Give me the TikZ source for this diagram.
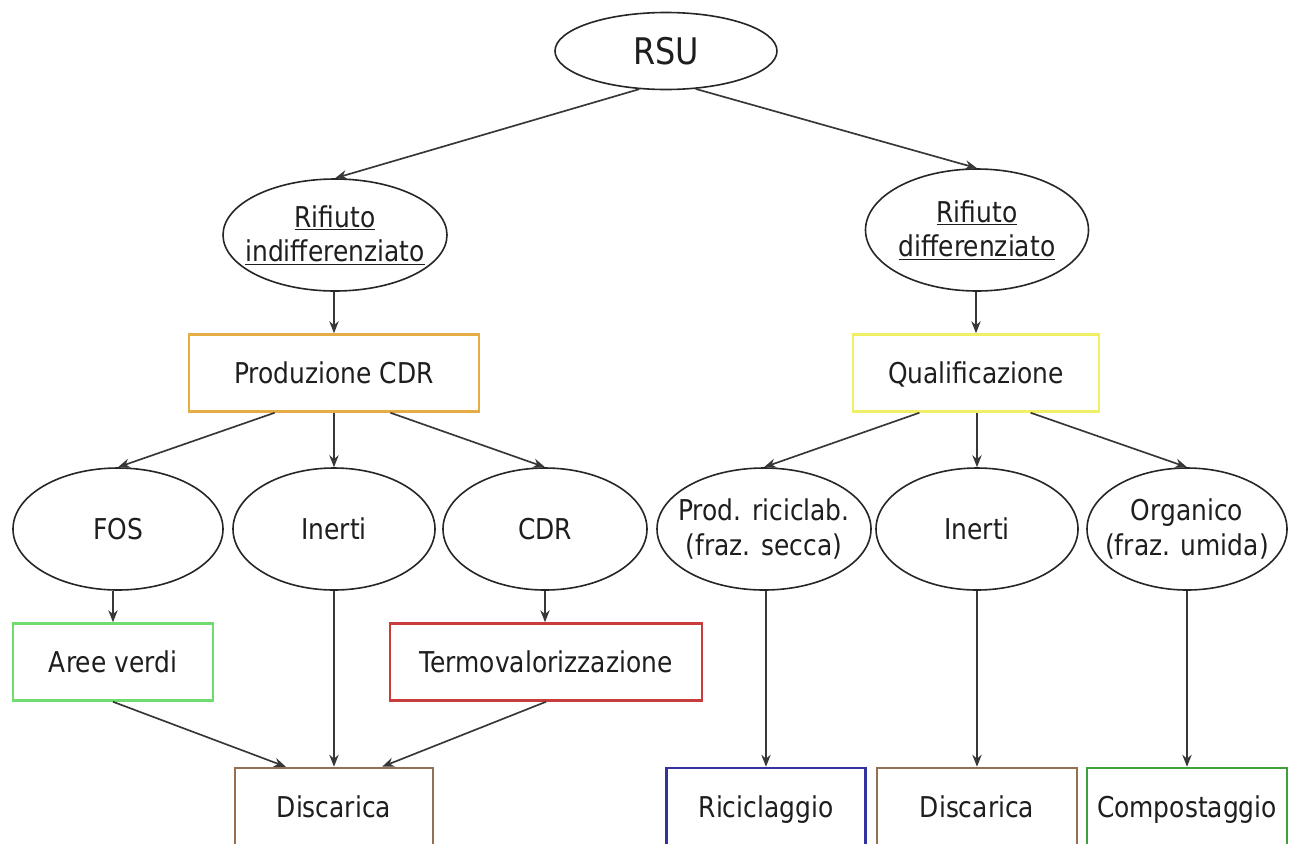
\documentclass[tikz,border=0pt]{standalone}
\usepackage{fontspec}
\setmainfont[FakeStretch=0.87]{DejaVu Sans}
\usetikzlibrary{shapes.geometric,arrows.meta,calc}
\newlength{\px}\setlength{\px}{0.75pt}
\definecolor{cOrange}{RGB}{230,172,70}
\definecolor{cYellow}{RGB}{240,240,100}
\definecolor{cLGreen}{RGB}{110,220,110}
\definecolor{cRed}{RGB}{200,60,60}
\definecolor{cBrown}{RGB}{150,110,80}
\definecolor{cBlue}{RGB}{50,50,160}
\definecolor{cGreen}{RGB}{60,160,60}
\definecolor{cText}{RGB}{30,30,30}
\definecolor{cLine}{RGB}{55,55,55}
\begin{document}
\begin{tikzpicture}[x=0.75pt,y=-0.75pt,
  txt/.style={font=\fontsize{21.5}{26}\selectfont, text=cText, align=center, inner sep=0pt},
  ell/.style={ellipse, draw=black!85, line width=1.2pt, inner sep=0pt},
  rbox/.style={rectangle, draw=#1, line width=1.9pt, inner sep=0pt, minimum height=77\px, txt, text height=15.7pt, text depth=0pt},
  arr/.style={draw=cLine, line width=1.25pt, -{Stealth[length=9pt,width=7pt]}}
]
\useasboundingbox (0,0) rectangle (1291,843);
\fill[white] (0,0) rectangle (1291,843);

% ellipses
\node[ell, minimum width=222\px, minimum height=77\px,
  label={[txt,font=\fontsize{27.5}{30}\selectfont]center:RSU}] (rsu) at (666,51) {};
\node[ell, minimum width=224\px, minimum height=112\px,
  label={[txt]center:\underline{Rifiuto}\\\underline{indifferenziato}}] (ri) at (335,235) {};
\node[ell, minimum width=223\px, minimum height=122\px,
  label={[txt]center:\underline{Rifiuto}\\\underline{differenziato}}] (rd) at (977,230) {};

\node[ell, minimum width=210\px, minimum height=122\px, label={[txt]center:FOS}] (fos) at (118,529) {};
\node[ell, minimum width=202\px, minimum height=122\px, label={[txt]center:Inerti}] (in1) at (334,529) {};
\node[ell, minimum width=204\px, minimum height=122\px, label={[txt]center:CDR}] (cdr) at (545,529) {};
\node[ell, minimum width=214\px, minimum height=122\px, label={[txt]center:Prod. riciclab.\\(fraz. secca)}] (pr) at (764,529) {};
\node[ell, minimum width=202\px, minimum height=122\px, label={[txt]center:Inerti}] (in2) at (977,529) {};
\node[ell, minimum width=200\px, minimum height=122\px, label={[txt]center:Organico\\(fraz. umida)}] (org) at (1187,529) {};

% boxes
\node[rbox=cOrange, minimum width=290\px] (pc) at (334,373) {Produzione CDR};
\node[rbox=cYellow, minimum width=246\px] (qu) at (976,373) {Qualificazione};
\node[rbox=cLGreen, minimum width=200\px] (av) at (113,662) {Aree verdi};
\node[rbox=cRed, minimum width=312\px] (tv) at (546,662) {Termovalorizzazione};
\node[rbox=cBrown, minimum width=198\px, minimum height=78\px] (d1) at (334,807) {Discarica};
\node[rbox=cBlue, minimum width=199\px, minimum height=78\px] (rc) at (766,807) {Riciclaggio};
\node[rbox=cBrown, minimum width=200\px, minimum height=78\px] (d2) at (977,807) {Discarica};
\node[rbox=cGreen, minimum width=200\px, minimum height=78\px] (cp) at (1187,807) {Compostaggio};

% connectors
\draw[arr] (rsu.-125) -- (ri.north);
\draw[arr] (rsu.-52) -- (rd.north);
\draw[arr] (ri.south -| pc.north) -- (pc.north);
\draw[arr] (rd.south -| qu.north) -- (qu.north);
\draw[arr] ($(pc.south west)!0.297!(pc.south east)$) -- (fos.north);
\draw[arr] (pc.south) -- (in1.north);
\draw[arr] ($(pc.south west)!0.693!(pc.south east)$) -- (cdr.north);
\draw[arr] ($(qu.south west)!0.272!(qu.south east)$) -- (pr.north);
\draw[arr] (qu.south -| in2.north) -- (in2.north);
\draw[arr] ($(qu.south west)!0.72!(qu.south east)$) -- (org.north);
\draw[arr] (fos.south -| av.north) -- (av.north);
\draw[arr] (cdr.south) -- (tv.north -| cdr.south);
\draw[arr] (in1.south) -- (d1.north);
\draw[arr] (av.south) -- ($(d1.north west)!0.26!(d1.north east)$);
\draw[arr] (tv.south) -- ($(d1.north west)!0.74!(d1.north east)$);
\draw[arr] (pr.south -| rc.north) -- (rc.north);
\draw[arr] (in2.south) -- (d2.north);
\draw[arr] (org.south) -- (cp.north);
\end{tikzpicture}
\end{document}
